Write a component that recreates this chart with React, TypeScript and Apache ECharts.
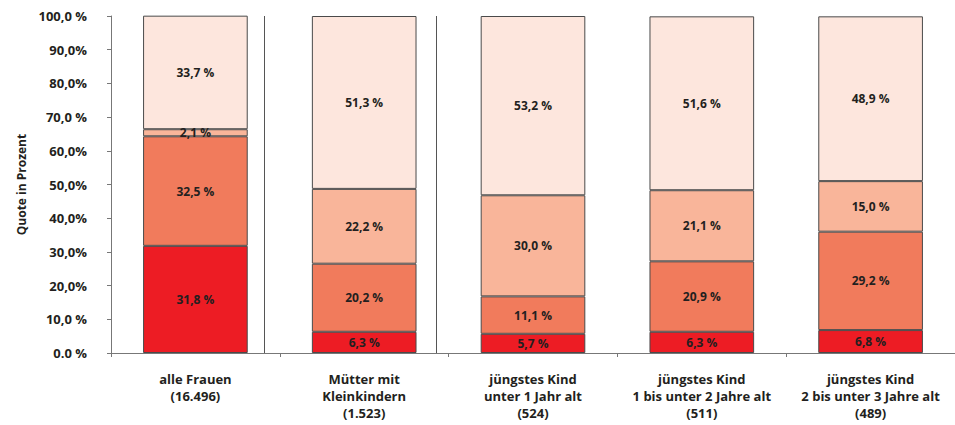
import React, { useEffect, useRef } from "react";
import * as echarts from "echarts";

const categories = [
  "alle Frauen\n(16.496)",
  "Mütter mit\nKleinkindern\n(1.523)",
  "jüngstes Kind\nunter 1 Jahr alt\n(524)",
  "jüngstes Kind\n1 bis unter 2 Jahre alt\n(511)",
  "jüngstes Kind\n2 bis unter 3 Jahre alt\n(489)",
];
const series1 = [31.8, 6.3, 5.7, 6.3, 6.8];
const series2 = [32.5, 20.2, 11.1, 20.9, 29.2];
const series3 = [2.1, 22.2, 30.0, 21.1, 15.0];
const series4 = [33.7, 51.3, 53.2, 51.6, 48.9];
const yTickLabels = [
  "0.0 %", "10,0 %", "20,0%", "30,0%", "40,0%", "50,0%",
  "60,0%", "70,0 %", "80,0%", "90,0%", "100,0 %",
];
const colors = ["#ED1C24", "#F17B5C", "#F9B59A", "#FDE6DD"];

export default function App() {
  const ref = useRef<HTMLDivElement>(null);
  useEffect(() => {
    document.body.style.margin = "0";
    if (!ref.current) return;
    const chart = echarts.init(ref.current, null, { renderer: "svg" });
    const font = "'Open Sans', 'Noto Sans', sans-serif";
    const mk = (data: number[], i: number) => ({
      type: "bar",
      stack: "all",
      data,
      barWidth: "62%",
      itemStyle: { color: colors[i], borderColor: "#4a4a4a", borderWidth: 1 },
      label: {
        show: true,
        position: "inside",
        formatter: (p: any) => p.value.toFixed(1).replace(".", ",") + " %",
        fontFamily: font,
        fontWeight: "bold",
        fontSize: 12,
        color: "#231f20",
      },
    });
    chart.setOption({
      animation: false,
      textStyle: { fontFamily: font },
      grid: { left: 111, right: 0, top: 16, bottom: 72, containLabel: false },
      xAxis: {
        type: "category",
        data: categories,
        axisLine: { lineStyle: { color: "#777", width: 1 } },
        axisTick: { show: true, length: 4, lineStyle: { color: "#777" } },
        axisLabel: {
          margin: 17,
          fontFamily: font,
          fontWeight: "bold",
          fontSize: 13,
          lineHeight: 17,
          color: "#231f20",
          interval: 0,
        },
      },
      yAxis: {
        type: "value",
        min: 0,
        max: 100,
        interval: 10,
        name: "Quote in Prozent",
        nameLocation: "middle",
        nameRotate: 90,
        nameGap: 84,
        nameTextStyle: { fontFamily: font, fontWeight: "bold", fontSize: 12, color: "#231f20" },
        axisLine: { show: true, lineStyle: { color: "#777", width: 1 } },
        axisTick: { show: true, length: 4, lineStyle: { color: "#777" } },
        splitLine: { show: false },
        axisLabel: {
          margin: 24,
          fontFamily: font,
          fontWeight: "bold",
          fontSize: 13,
          color: "#231f20",
          formatter: (v: number) => yTickLabels[Math.round(v / 10)],
        },
      },
      graphic: [
        { type: "line", shape: { x1: 264.5, y1: 16, x2: 264.5, y2: 353 }, style: { stroke: "#555", lineWidth: 1 } },
        { type: "line", shape: { x1: 436.5, y1: 16, x2: 436.5, y2: 353 }, style: { stroke: "#555", lineWidth: 1 } },
      ],
      series: [mk(series1, 0), mk(series2, 1), mk(series3, 2), mk(series4, 3)],
    });
    return () => chart.dispose();
  }, []);
  return <div ref={ref} style={{ width: 955, height: 425 }} />;
}
